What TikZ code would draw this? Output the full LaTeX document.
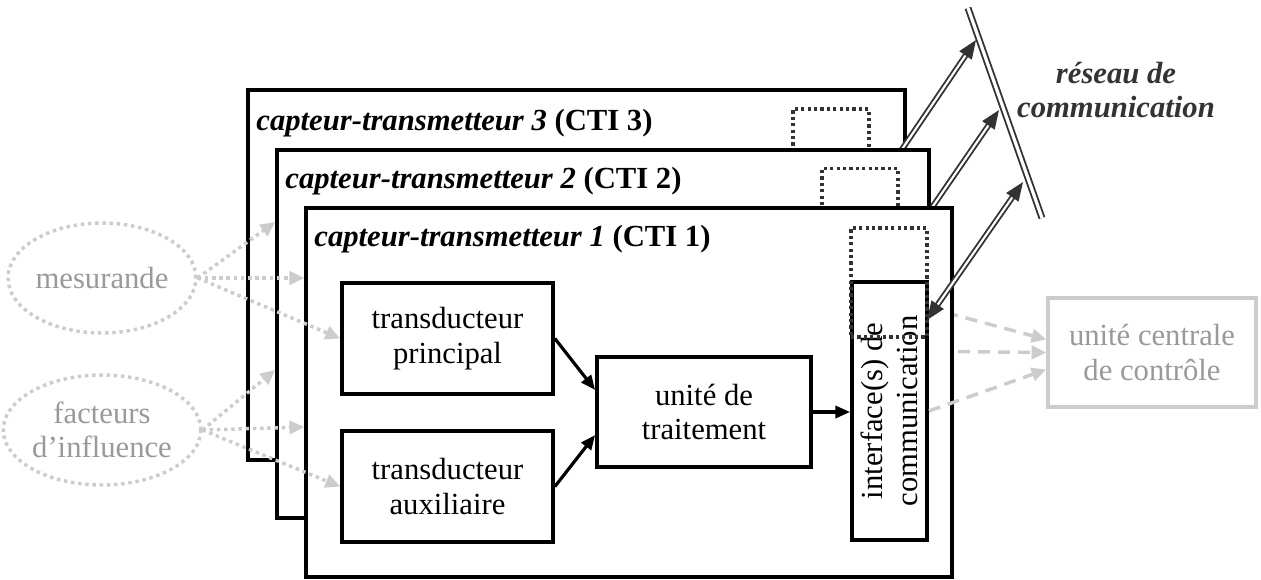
\documentclass[tikz,border=0pt]{standalone}
\usepackage{fontspec}
\setmainfont{Liberation Serif}
\usetikzlibrary{
  arrows.meta,
  positioning,
  shapes.geometric,
  calc
}
\definecolor{cnnet}{HTML}{333333}
\definecolor{cnline}{HTML}{CCCCCC}
\definecolor{cntext}{HTML}{999999}

\begin{document}
\begin{tikzpicture}[
  x=0.75pt, y=-0.75pt,
  font=\fontsize{23}{26}\selectfont,
  frame/.style={draw, line width=2.8pt, fill=white, inner sep=0pt},
  box/.style={draw, line width=2.8pt, fill=white, align=center, inner sep=0pt},
  dotbox/.style={draw=cnnet, line width=2.4pt, dash pattern=on 2.4pt off 2.4pt, inner sep=0pt},
  ctitle/.style={anchor=west, inner sep=0pt, font=\fontsize{23}{26}\selectfont\bfseries},
  arrow/.style={-{Triangle[length=11pt, width=9pt]}, line width=2.4pt},
  netarrow/.style={{Triangle[length=14pt, width=11pt]}-{Triangle[length=14pt, width=11pt]},
    draw=cnnet, double=white, line width=1.4pt, double distance=1.6pt},
  infl/.style={-{Triangle[length=11pt, width=10pt]}, draw=cnline, line width=2.6pt,
    dash pattern=on 2.6pt off 2.8pt},
  ctrl/.style={-{Triangle[length=11pt, width=10pt]}, draw=cnline, line width=2.6pt,
    dash pattern=on 9pt off 6pt},
  ghost/.style={text=cntext, draw=cnline, line width=2.6pt, align=center, inner sep=0pt}
]
  \useasboundingbox (0,0) rectangle (1261,579);

  % --- Network and hidden ports ---
  \coordinate (nettop) at (968,8);
  \coordinate (netbot) at (1042,218);
  \coordinate (net3) at (976,40);
  \coordinate (net2) at (999,110);
  \coordinate (net1) at (1023,182);
  \coordinate (port3) at (869,198);
  \coordinate (port2) at (898,257);
  \coordinate (port1) at (927,320);
  \coordinate (ifc3) at (869,292);
  \coordinate (ifc2) at (898,351);

  % --- Outside world ---
  \node[ghost, ellipse, dash pattern=on 2.6pt off 2.8pt, minimum width=140pt,
    minimum height=82.5pt] (mes) at (102,278) {mesurande};
  \node[ghost, ellipse, dash pattern=on 2.6pt off 2.8pt, minimum width=140pt,
    minimum height=82.5pt] (fac) at (102,430) {facteurs\\d’influence};
  \node[ghost, minimum width=156pt, minimum height=81.75pt] (uc) at (1152,352.5)
    {unité centrale\\de contrôle};
  \coordinate (uc3) at ($(uc.west)+(0,-13)$);
  \coordinate (uc2) at (uc.west);
  \coordinate (uc1) at ($(uc.west)+(0,17)$);

  % --- CTI 3 ---
  \node[frame, minimum width=492.75pt, minimum height=277.5pt] (f3) at (576.5,275) {};
  \node[ctitle] (t3) at ([shift={(10,35)}]f3.north west)
    {\itshape capteur-transmetteur 3 \upshape(CTI 3)};
  \node[dotbox, minimum width=57pt, minimum height=81.75pt] (d3) at (831,163.5) {};
  \draw[netarrow] (port3) -- (net3);
  \draw[ctrl] (ifc3) -- (uc3);

  % --- CTI 2 ---
  \node[frame, minimum width=489pt, minimum height=276pt] (f2) at (603,334) {};
  \node[ctitle] (t2) at ([shift={(10,33)}]f2.north west)
    {\itshape capteur-transmetteur 2 \upshape(CTI 2)};
  \node[dotbox, minimum width=57pt, minimum height=81.75pt] (d2) at (860,223) {};
  \draw[netarrow] (port2) -- (net2);
  \draw[ctrl] (ifc2) -- (uc2);

  % --- CTI 1 ---
  \node[frame, minimum width=484.5pt, minimum height=276.75pt] (f1) at (629,392.5) {};
  \node[ctitle] (t1) at ([shift={(10,33)}]f1.north west)
    {\itshape capteur-transmetteur 1 \upshape(CTI 1)};
  \node[box, minimum width=158.25pt, minimum height=83.25pt] (prin) at (447.5,338.5)
    {transducteur\\principal};
  \node[box, minimum width=158.25pt, minimum height=83.25pt, below=25pt of prin] (aux)
    {transducteur\\auxiliaire};
  \node[box, minimum width=160.5pt, minimum height=82.5pt] (un) at (704,412)
    {unité de\\traitement};
  \node[box, minimum width=193.5pt, minimum height=56.25pt, rotate=90] (iface)
    at (889.5,411) {interface(s) de\\communication};
  \node[dotbox, minimum width=57pt, minimum height=81.75pt] (d1) at (889,282.5) {};

  \draw[arrow] (prin.east) -- ($(un.west)+(0,-22)$);
  \draw[arrow] (aux.east) -- ($(un.west)+(0,23)$);
  \draw[arrow] (un.east) -- (un.east -| iface.north);
  \draw[netarrow] (port1) -- (net1);
  \draw[ctrl] (iface.south) -- (uc1);

  % --- Network ---
  \draw[draw=cnnet, double=white, line width=1.4pt, double distance=2.4pt] (nettop) -- (netbot);
  \node[font=\fontsize{23}{26}\selectfont\bfseries\itshape, align=center, text=cnnet] (nettxt)
    at (1116,90) {réseau de\\communication};

  % --- Influences ---
  \coordinate (m3) at (f2.west |- 0,222);
  \coordinate (m2) at (f1.west |- 0,278);
  \coordinate (a3) at (f2.west |- 0,370);
  \coordinate (a2) at (f1.west |- 0,427);
  \draw[infl] (mes.east) -- (m3);
  \draw[infl] (mes.east) -- (m2);
  \draw[infl] (mes.east) -- (prin.west);
  \draw[infl] (fac.east) -- (a3);
  \draw[infl] (fac.east) -- (a2);
  \draw[infl] (fac.east) -- (aux.west);
\end{tikzpicture}
\end{document}
